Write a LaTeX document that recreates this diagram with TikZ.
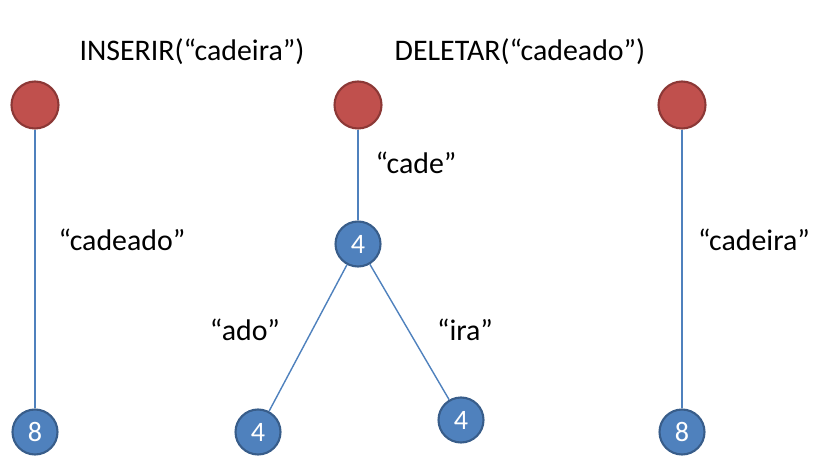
\documentclass[tikz,border=0pt]{standalone}
\usepackage{fontspec}
\setmainfont{Carlito}
\usetikzlibrary{positioning}
\definecolor{rootred}{HTML}{C0504D}
\definecolor{rootedge}{HTML}{8C3836}
\definecolor{leafblue}{HTML}{4F81BD}
\definecolor{leafedge}{HTML}{385D8A}
\begin{document}
\begin{tikzpicture}[x=0.02cm,y=-0.02cm]
\tikzstyle{root}=[circle,draw=rootedge,fill=rootred,line width=1.2pt,minimum size=0.94cm,inner sep=0pt]
\tikzstyle{leaf}=[circle,draw=leafedge,fill=leafblue,line width=1.2pt,minimum size=0.9cm,inner sep=0pt,text=white,font=\fontsize{16}{18}\selectfont]
\tikzstyle{lbl}=[font=\fontsize{17}{20}\selectfont]
\tikzstyle{link}=[draw=leafblue,line width=0.8pt]
\useasboundingbox (0,0) rectangle (820,465);
\node[lbl] (ins) at (192,52) {INSERIR(“cadeira”)};
\node[lbl] (del) at (520,52) {DELETAR(“cadeado”)};
% first trie
\node[root] (r1) at (35,105) {};
\node[leaf] (a8) at (35,432) {8};
% second trie
\node[root] (r2) at (358,105) {};
\node[leaf] (b4) at (358,244) {4};
\node[leaf] (c4) at (258,432) {4};
\node[leaf] (d4) at (461,420) {4};
% third trie
\node[root] (r3) at (682,105) {};
\node[leaf] (e8) at (682,432) {8};
\path[link] (r1) -- (a8);
\path[link] (r2) -- (b4);
\path[link] (b4) -- (c4);
\path[link] (b4) -- (d4);
\path[link] (r3) -- (e8);
\node[lbl] (t1) at (122,240) {“cadeado”};
\node[lbl] (t2) at (416,163) {“cade”};
\node[lbl] (t3) at (245,330) {“ado”};
\node[lbl] (t4) at (465,330) {“ira”};
\node[lbl] (t5) at (754,240) {“cadeira”};
\end{tikzpicture}
\end{document}
